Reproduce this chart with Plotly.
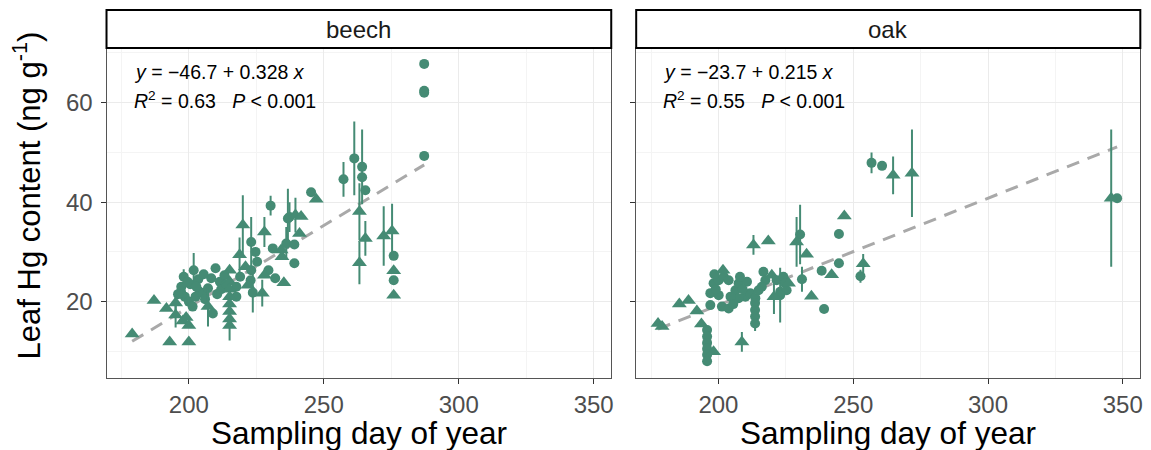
import plotly.graph_objects as go

# ---------------- data ----------------
beech_x = [179.0, 187.1, 192.9, 200.0, 191.7, 195.1, 195.1, 197.8, 200.0, 199.0,
           198.1, 201.8, 197.2, 197.1, 198.5, 200.0, 201.4, 202.5, 204.0, 205.2,
           207.1, 208.9, 207.1, 208.3, 209.9, 211.5, 213.2, 210.5, 212.0, 203.5,
           200.5, 206.0, 215.1, 215.1, 215.1, 215.1, 215.1, 215.1, 215.1, 215.1,
           217.6, 217.6, 218.8, 220.0, 223.1, 224.7, 225.3, 223.1, 222.9, 223.7,
           221.9, 228.0, 227.2, 230.3, 231.1, 229.5, 228.0, 232.0, 234.2, 234.5,
           235.2, 236.7, 237.3, 236.1, 239.1, 239.1, 241.0, 239.5, 241.6, 245.3,
           247.2, 257.3, 261.3, 264.2, 264.2, 265.4, 263.2, 265.4, 263.2, 272.2,
           275.3, 275.9, 275.9, 275.9, 275.9, 287.2, 287.2, 287.2, 287.2,
           199.5, 202.8, 196.0, 205.5, 213.8, 219.0, 221.0]
beech_y = [13.5, 20.2, 11.9, 11.9, 18.6, 19.7, 17.3, 16.1, 15.2, 16.8,
           25.0, 26.3, 23.0, 22.0, 21.0, 20.0, 19.0, 21.0, 22.0, 21.7,
           22.7, 17.6, 19.0, 24.7, 26.7, 24.0, 25.3, 21.5, 22.5, 24.5,
           23.5, 20.5, 26.3, 24.0, 22.5, 21.0, 19.5, 18.0, 16.5, 15.2,
           21.0, 23.0, 29.4, 35.4, 32.0, 30.0, 28.0, 26.3, 24.3, 21.8,
           23.3, 34.0, 21.7, 39.3, 30.7, 26.3, 25.3, 24.7, 30.4, 29.0,
           23.8, 36.7, 37.0, 31.7, 27.7, 31.5, 33.7, 37.4, 37.1, 42.0,
           40.6, 44.6, 48.8, 47.1, 45.0, 42.4, 38.1, 32.7, 27.8, 33.2,
           34.2, 29.2, 26.2, 24.3, 21.3, 67.8, 62.4, 62.0, 49.3,
           24.0, 23.0, 21.5, 25.5, 23.5, 25.0, 27.0]
beech_err = [0, 0, 0, 0, 0, 2.0, 2.5, 0, 0, 0,
             1.5, 3.5, 0, 0, 0, 0, 0, 0, 0, 0,
             0, 0, 4.0, 0, 0, 0, 0, 0, 0, 0,
             0, 0, 0, 0, 0, 0, 0, 0, 0, 3.0,
             0, 0, 3.5, 6.0, 5.0, 0, 0, 0, 0, 4.0,
             0, 3.0, 2.7, 2.0, 0, 0, 0, 0, 0, 0,
             0, 6.0, 3.0, 3.3, 0, 0, 0, 3.5, 0, 0,
             0, 3.5, 7.4, 7.5, 0, 0, 5.7, 3.5, 4.3, 6.0,
             5.5, 0, 0, 0, 0, 0, 0, 0, 0,
             0, 0, 0, 0, 0, 0, 0]
beech_shape = ["t", "t", "t", "t", "t", "t", "t", "t", "t", "t",
               "c", "c", "c", "c", "c", "c", "c", "c", "c", "c",
               "c", "c", "t", "c", "c", "c", "c", "c", "c", "c",
               "c", "c", "t", "t", "t", "t", "t", "t", "t", "t",
               "c", "c", "t", "t", "c", "c", "c", "c", "c", "c",
               "t", "t", "t", "c", "c", "c", "t", "c", "t", "t",
               "t", "c", "c", "c", "c", "c", "t", "t", "t", "c",
               "t", "c", "c", "c", "c", "c", "t", "t", "t", "t",
               "t", "c", "t", "c", "t", "c", "c", "c", "c",
               "c", "c", "c", "c", "c", "c", "t"]

oak_x = [177.6, 179.1, 185.5, 188.9, 192.0, 193.7, 198.2, 201.7, 213.0, 218.5,
         208.7, 229.0, 232.7, 234.5, 242.0, 220.6, 246.7, 253.7, 264.8, 271.8,
         345.7, 219.8, 226.0,
         256.8, 260.7, 347.9, 244.7, 244.7, 252.7, 238.3, 239.2, 230.3, 231.0,
         198.2, 197.0, 200.1, 202.0, 203.8, 200.1, 201.3, 203.8, 197.0, 206.3,
         207.5, 210.6, 210.0, 207.5, 211.8, 213.7, 213.6, 213.6, 213.6, 213.6,
         216.7, 217.4, 216.1, 214.9, 221.6, 224.1, 224.7, 222.9, 225.3, 222.9,
         195.8, 195.8, 195.8, 195.8, 195.8, 195.8,
         199.0, 198.5, 204.5, 205.5, 209.0, 208.0]
oak_y = [15.6, 15.0, 19.5, 20.2, 18.1, 15.5, 9.9, 26.3, 31.4, 32.2,
         11.9, 32.0, 29.5, 21.1, 25.4, 21.0, 37.2, 27.6, 45.4, 45.8,
         40.8, 25.3, 23.7,
         47.9, 47.3, 40.8, 33.6, 27.7, 25.1, 26.2, 18.5, 33.5, 24.5,
         23.7, 21.7, 24.3, 25.0, 24.3, 21.3, 19.0, 18.6, 19.3, 22.3,
         23.7, 24.0, 21.0, 20.7, 21.7, 20.7, 19.7, 18.3, 17.0, 15.6,
         26.0, 24.3, 23.0, 22.3, 24.3, 25.0, 23.7, 22.0, 22.3, 21.3,
         14.3, 13.0, 11.7, 10.5, 9.3, 8.0,
         22.5, 25.5, 21.0, 19.5, 22.5, 25.0]
oak_err = [0, 0, 0, 0, 0, 0, 0, 0, 2.0, 0,
           2.0, 5.0, 0, 0, 0, 3.5, 0, 2.0, 3.8, 8.8,
           13.8, 0, 0,
           2.1, 0, 0, 0, 0, 1.3, 0, 0, 6.0, 2.5,
           0, 0, 0, 0, 0, 0, 0, 0, 0, 0,
           0, 0, 0, 0, 0, 0, 0, 0, 0, 1.5,
           0, 0, 0, 0, 0, 0, 0, 0, 0, 5.5,
           0, 0, 0, 0, 0, 0,
           0, 0, 0, 0, 0, 0]
oak_shape = ["t"] * 23 + ["c"] * 52

# fitted lines (from the printed equations), spanning each species' day range
beech_fit = (-46.7, 0.328)
oak_fit = (-23.7, 0.215)

x_ticks = [200, 250, 300, 350]
x_minor = [175, 225, 275, 325]
y_ticks = [20, 40, 60]
y_minor = [10, 30, 50, 70]

GREEN = "#458B74"
FONT = "Liberation Sans, Arial, Helvetica, sans-serif"

fig = go.Figure()


def add_panel(xs, ys, errs, shapes, fit, xa, ya):
    lx = [min(xs), max(xs)]
    ly = [fit[0] + fit[1] * v for v in lx]
    fig.add_trace(go.Scatter(x=lx, y=ly, mode="lines", xaxis=xa, yaxis=ya,
                             line=dict(color="#A9A9A9", width=3, dash="13px,9px"),
                             showlegend=False, hoverinfo="skip"))
    for shp, sym, size in (("c", "circle", 10), ("t", "triangle-up", 13)):
        idx = [i for i, s in enumerate(shapes) if s == shp]
        fig.add_trace(go.Scatter(
            x=[xs[i] for i in idx], y=[ys[i] for i in idx],
            mode="markers", xaxis=xa, yaxis=ya, showlegend=False,
            marker=dict(symbol=sym, size=size, color=GREEN, line=dict(width=0)),
            error_y=dict(type="data", array=[errs[i] for i in idx], visible=True,
                         color=GREEN, thickness=2, width=0)))


add_panel(beech_x, beech_y, beech_err, beech_shape, beech_fit, "x", "y")
add_panel(oak_x, oak_y, oak_err, oak_shape, oak_fit, "x2", "y2")

W, H = 1151, 450
left1, right1 = 106.7, 612.3
left2, right2 = 637.3, 1142.3
top, bottom = 48.0, 377.7
strip_top = 10.0

xd1 = [left1 / W, right1 / W]
xd2 = [left2 / W, right2 / W]
yd = [(H - bottom) / H, (H - top) / H]

axis_common = dict(
    showgrid=True, gridcolor="#EBEBEB", gridwidth=1.1, zeroline=False,
    showline=True, mirror=True, linecolor="#555555", linewidth=1,
    ticks="outside", ticklen=5, tickwidth=1, tickcolor="#333333",
    tickfont=dict(family=FONT, size=24, color="#4D4D4D"),
)

fig.update_layout(
    width=W, height=H,
    margin=dict(l=0, r=0, t=0, b=0),
    paper_bgcolor="white", plot_bgcolor="white",
    font=dict(family=FONT),
    xaxis=dict(domain=xd1, range=[169.5, 356.5], tickvals=x_ticks, anchor="y",
               minor=dict(tickvals=x_minor, showgrid=True, gridcolor="#F4F4F4", gridwidth=0.6, ticks=""),
               **axis_common),
    xaxis2=dict(domain=xd2, range=[169.5, 356.5], tickvals=x_ticks, anchor="y2",
                minor=dict(tickvals=x_minor, showgrid=True, gridcolor="#F4F4F4", gridwidth=0.6, ticks=""),
                **axis_common),
    yaxis=dict(domain=yd, range=[4.7, 71], tickvals=y_ticks, anchor="x",
               ticklabelstandoff=3,
               minor=dict(tickvals=y_minor, showgrid=True, gridcolor="#F4F4F4", gridwidth=0.6, ticks=""),
               **axis_common),
    yaxis2=dict(domain=yd, range=[4.7, 71], tickvals=y_ticks, anchor="x2",
                showticklabels=False,
                minor=dict(tickvals=y_minor, showgrid=True, gridcolor="#F4F4F4", gridwidth=0.6, ticks=""),
                **axis_common),
)

strip_h = (bottom - top)
strip_y1 = 1 + (top - strip_top) / strip_h
shapes = []
annos = []
for xref, yref, label in (("x domain", "y domain", "beech"), ("x2 domain", "y2 domain", "oak")):
    shapes.append(dict(type="rect", xref=xref, yref=yref, x0=0, x1=1, y0=1, y1=strip_y1,
                       fillcolor="white", line=dict(color="black", width=2), layer="above"))
    annos.append(dict(xref=xref, yref=yref, x=0.5, y=(1 + strip_y1) / 2, text=label,
                      showarrow=False, font=dict(family=FONT, size=24, color="#1A1A1A"),
                      xanchor="center", yanchor="middle"))

eqs = [("x domain", "y domain", "<i>y</i> = \u221246.7 + 0.328 <i>x</i>", "0.63"),
       ("x2 domain", "y2 domain", "<i>y</i> = \u221223.7 + 0.215 <i>x</i>", "0.55")]
for xref, yref, eq, r2 in eqs:
    annos.append(dict(xref=xref, yref=yref, x=0.05, y=(bottom - 71.7) / strip_h, text=eq,
                      showarrow=False, xanchor="left", yanchor="middle",
                      font=dict(family=FONT, size=19.5, color="black")))
    annos.append(dict(xref=xref, yref=yref, x=0.05, y=(bottom - 100.5) / strip_h,
                      text="<i>R</i><sup>2</sup> = " + r2 + "\u00a0\u00a0\u00a0<i>P</i> &lt; 0.001",
                      showarrow=False, xanchor="left", yanchor="middle",
                      font=dict(family=FONT, size=19.5, color="black")))

# axis titles
for cx in ((left1 + right1) / 2, (left2 + right2) / 2):
    annos.append(dict(xref="paper", yref="paper", x=cx / W, y=(H - 432.5) / H,
                      text="Sampling day of year", showarrow=False,
                      xanchor="center", yanchor="middle",
                      font=dict(family=FONT, size=31.5, color="black")))
annos.append(dict(xref="paper", yref="paper", x=27.5 / W, y=(H - 195) / H,
                  text="Leaf Hg content (ng g<sup>-1</sup>)", textangle=-90,
                  showarrow=False, xanchor="center", yanchor="middle",
                  font=dict(family=FONT, size=31, color="black")))

fig.update_layout(shapes=shapes, annotations=annos)
fig.write_html("out.html", config={"displayModeBar": False},
               post_script="document.body.style.margin='0px';document.body.style.overflow='hidden';")
